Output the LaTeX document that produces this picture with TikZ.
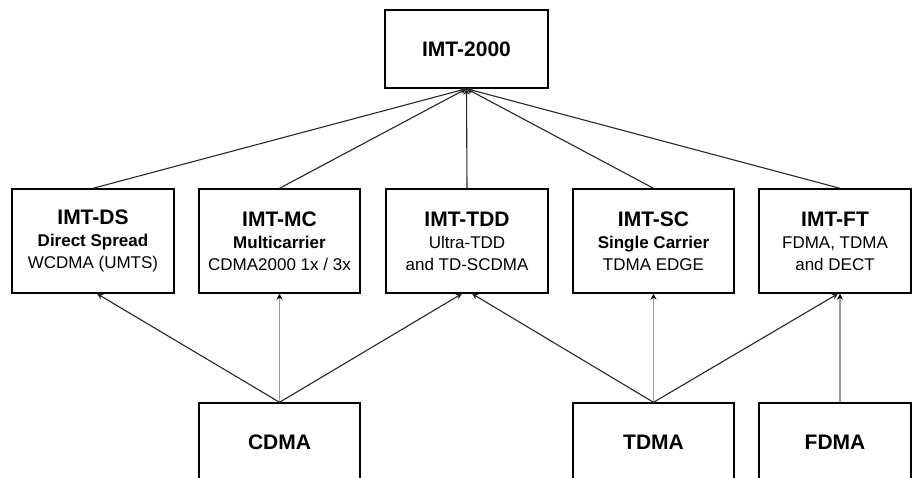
\documentclass[tikz,border=0pt]{standalone}
\usepackage{fontspec}
\setmainfont{Liberation Sans}
\usetikzlibrary{arrows.meta}
\begin{document}
\begin{tikzpicture}[x=1pt,y=-1pt,
  box/.style={draw=black, line width=1.4pt, fill=white, inner sep=0pt, align=center,
    font=\fontsize{17}{22}\selectfont},
  midbox/.style={box, minimum height=104},
  conn/.style={draw=black!85, line width=1.1pt, -{Stealth[length=6pt,width=6pt]}},
  gconn/.style={draw=black!40, line width=1.6pt, -{Stealth[length=6pt,width=6pt,color=black]}}]
\newcommand{\ttl}[1]{{\fontsize{21}{22}\selectfont\bfseries #1}}
\useasboundingbox (0,0) rectangle (914,478);
\clip (0,0) rectangle (914,478);
% top
\node[box, minimum width=163, minimum height=78] (imt) at (466.5,49) {\ttl{IMT-2000}};
% middle row
\node[midbox, minimum width=162] (ds) at (93,241) {\ttl{IMT-DS}\\\textbf{Direct Spread}\\WCDMA (UMTS)};
\node[midbox, minimum width=161] (mc) at (279.5,241) {\ttl{IMT-MC}\\\textbf{Multicarrier}\\CDMA2000 1x / 3x};
\node[midbox, minimum width=162] (tdd) at (467,241) {\ttl{IMT-TDD}\\Ultra-TDD\\and TD-SCDMA};
\node[midbox, minimum width=161] (sc) at (653.5,241) {\ttl{IMT-SC}\\\textbf{Single Carrier}\\TDMA EDGE};
\node[midbox, minimum width=152] (ft) at (835,241) {\ttl{IMT-FT}\\FDMA, TDMA\\and DECT};
% bottom row
\node[box, minimum width=161, minimum height=78] (cdma) at (279.5,442) {\ttl{CDMA}};
\node[box, minimum width=161, minimum height=78] (tdma) at (653.5,442) {\ttl{TDMA}};
\node[box, minimum width=152, minimum height=78] (fdma) at (835,442) {\ttl{FDMA}};
% connectors to IMT-2000
\draw[conn] (ds.north) -- (imt.south);
\draw[conn] (mc.north) -- (imt.south);
\draw[conn] (tdd.north) -- (imt.south);
\draw[conn] (sc.north) -- (imt.south);
\draw[conn] ([xshift=5]ft.north) -- (imt.south);
% connectors from bottom row
\draw[conn] (cdma.north) -- ([xshift=4]ds.south);
\draw[gconn] (cdma.north) -- (mc.south);
\draw[conn] (cdma.north) -- ([xshift=-5]tdd.south);
\draw[conn] (tdma.north) -- ([xshift=5]tdd.south);
\draw[gconn] (tdma.north) -- (sc.south);
\draw[conn] (tdma.north) -- ([xshift=3]ft.south);
\draw[gconn] ([xshift=5]fdma.north) -- ([xshift=5]ft.south);
\end{tikzpicture}
\end{document}
